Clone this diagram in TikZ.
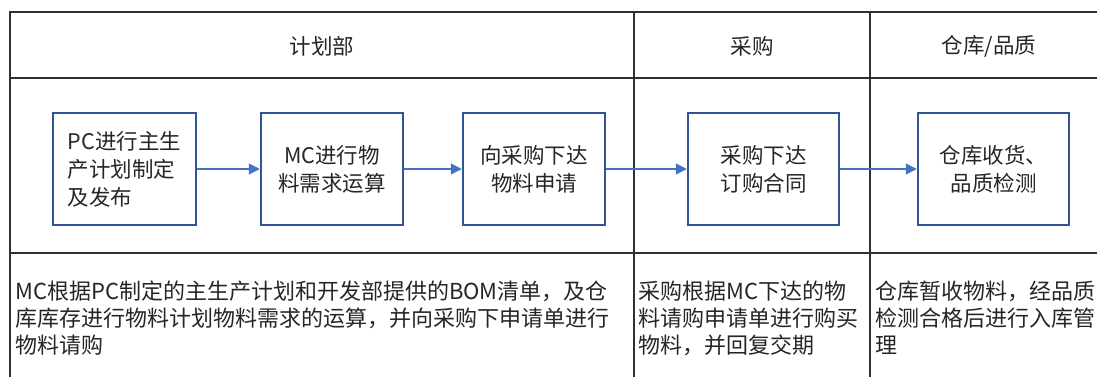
\documentclass[tikz,border=0pt]{standalone}
\usepackage{fontspec}
\setmainfont{Noto Sans CJK SC}
\usetikzlibrary{arrows.meta}
\definecolor{boxblue}{HTML}{2F5597}
\definecolor{arrblue}{HTML}{4472C4}
\definecolor{tline}{HTML}{303030}
\definecolor{txt}{HTML}{262626}
\tikzset{
  tbl/.style={draw=tline, line width=1.1pt},
  procbox/.style={draw=boxblue, line width=2.5pt, minimum height=112pt, inner sep=0pt,
    text=txt, font=\fontsize{21.5}{28}\selectfont},
  flow/.style={draw=arrblue, line width=1.2pt, -{Triangle[length=11pt,width=11pt]}},
  head/.style={text=txt, font=\fontsize{21.5}{26}\selectfont, inner sep=0pt},
  desc/.style={text=txt, font=\fontsize{22}{27}\selectfont, align=left, anchor=north west, inner sep=0pt},
}
\begin{document}
\begin{tikzpicture}[x=1pt,y=-1pt]
\clip (0,0) rectangle (1097,376);
\fill[white] (0,0) rectangle (1097,376);
% table
\draw[tbl] (10,400) -- (10,12) -- (1120,12);
\draw[tbl] (10,78) -- (1120,78);
\draw[tbl] (10,253) -- (1120,253);
\draw[tbl] (634,12) -- (634,400);
\draw[tbl] (870,12) -- (870,400);
% headers
\node[head] (h1) at (322,46) {计划部};
\node[head] (h2) at (752,46) {采购};
\node[head] (h3) at (989,46) {仓库/品质};
% process boxes
\node[procbox, minimum width=143pt, align=left] (b1) at (124.5,169) {PC进行主生\\产计划制定\\及发布};
\node[procbox, minimum width=142pt, align=center] (b2) at (332,169) {MC进行物\\料需求运算};
\node[procbox, minimum width=142pt, align=center] (b3) at (534,169) {向采购下达\\物料申请};
\node[procbox, minimum width=151pt, align=center] (b4) at (763.5,169) {采购下达\\订购合同};
\node[procbox, minimum width=151pt, align=center] (b5) at (993.5,169) {仓库收货、\\品质检测};
% connectors
\draw[flow] (b1.east) -- (b2.west);
\draw[flow] (b2.east) -- (b3.west);
\draw[flow] (b3.east) -- (b4.west);
\draw[flow] (b4.east) -- (b5.west);
% descriptions
\node[desc] (d1) at (15,281) {MC根据PC制定的主生产计划和开发部提供的BOM清单，及仓\\库库存进行物料计划物料需求的运算，并向采购下申请单进行\\物料请购};
\node[desc] (d2) at (638,281) {采购根据MC下达的物\\料请购申请单进行购买\\物料，并回复交期};
\node[desc] (d3) at (875,281) {仓库暂收物料，经品质\\检测合格后进行入库管\\理};
\end{tikzpicture}
\end{document}
